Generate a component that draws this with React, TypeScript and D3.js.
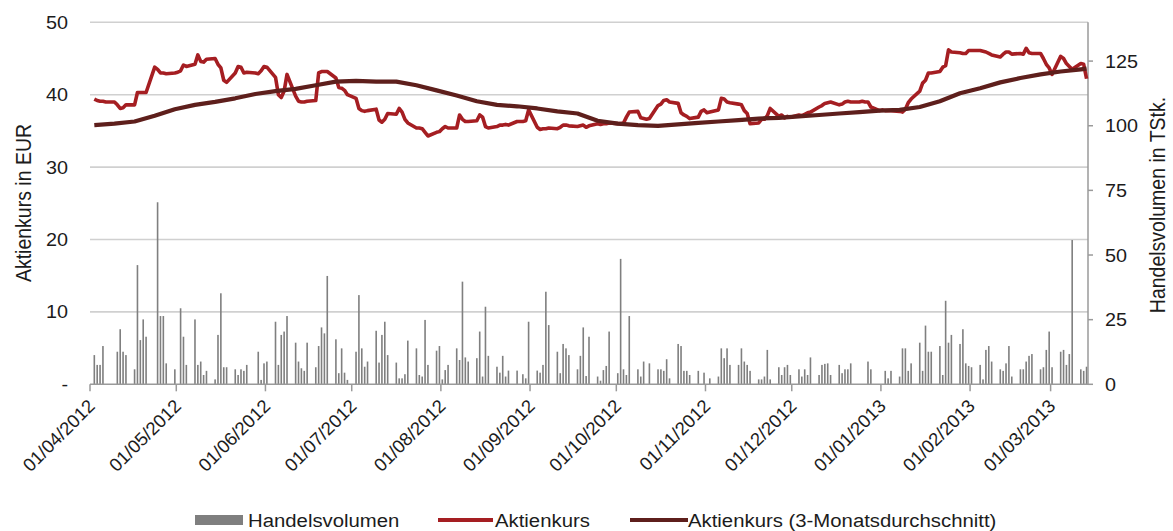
import React from "react";
import * as d3 from "d3";

// Trading period (daily closes, weekdays)
const firstTradingDay = "2012-04-02";
const lastTradingDay = "2013-03-13";
const axisStart = "2012-04-01";
const axisEnd = "2013-03-14";

// Aktienkurs in EUR, one value per trading day (Mon–Fri)
const priceValues = [
  39.4, 39.2, 39.1, 39.1, 39.0,
  39.0, 38.6, 38.1, 38.2, 38.6,
  38.6, 40.3, 40.3, 40.3, 40.3,
  43.8, 43.5, 43.0, 43.0, 42.9,
  43.0, 43.1, 43.3, 44.1, 43.9,
  44.2, 45.5, 44.6, 44.5, 44.9,
  45.0, 44.2, 43.7, 42.0, 41.7,
  43.0, 43.9, 43.8, 43.0, 43.1,
  43.0, 42.9, 43.3, 43.9, 43.8,
  42.4, 40.0, 39.6, 40.5, 42.8,
  39.8, 39.1, 39.0, 39.0, 39.1,
  39.2, 43.0, 43.2, 43.2, 43.2,
  42.3, 41.0, 40.9, 40.6, 40.0,
  39.5, 38.1, 37.8, 37.7, 37.8,
  38.0, 36.5, 36.2, 36.6, 37.4,
  37.3, 38.1, 37.6, 36.6, 36.1,
  35.4, 35.4, 35.3, 34.8, 34.3,
  34.8, 34.9, 35.3, 35.6, 35.4,
  35.4, 37.2, 36.6, 36.3, 36.3,
  36.4, 37.2, 36.9, 35.6, 35.4,
  35.6, 35.8, 35.8, 35.9, 35.8,
  36.3, 36.3, 36.3, 36.4, 37.9,
  35.5, 35.2, 35.3, 35.3, 35.4,
  35.3, 35.5, 35.8, 35.8, 35.7,
  35.6, 35.7, 35.8, 35.5, 35.7,
  36.0, 35.9, 36.0, 36.0, 36.1,
  36.0, 36.0, 36.1, 36.9, 37.6,
  37.7, 36.8, 36.7, 36.6, 36.7,
  38.5, 38.7, 39.2, 39.3, 39.0,
  38.8, 37.5, 37.2, 37.0, 36.7,
  36.9, 37.7, 37.9, 37.5, 37.6,
  37.9, 39.5, 39.4, 39.0, 38.9,
  38.7, 38.6, 37.8, 37.4, 36.0,
  36.1, 36.6, 36.6, 37.1, 38.1,
  37.0, 37.2, 36.8, 37.0, 36.9,
  37.2, 37.1, 37.3, 37.5, 37.6,
  38.3, 38.5, 38.8, 38.9, 39.0,
  38.6, 38.7, 39.0, 39.1, 39.0,
  39.0, 39.1, 39.0, 39.0, 38.3,
  37.8, 37.9, 37.8, 37.8, 37.8,
  37.7, 37.6, 38.0, 38.9, 39.4,
  40.5, 41.6, 42.0, 43.0, 43.0,
  43.2, 43.8, 44.0, 46.2, 45.9,
  45.8, 45.7, 45.7, 46.1, 46.1,
  46.1, 46.0, 45.9, 45.7, 45.5,
  45.2, 45.6, 45.9, 45.9, 45.6,
  45.7, 45.6, 46.4, 45.8, 45.7,
  45.7, 45.0, 44.2, 43.7, 42.8,
  45.3, 45.0, 44.3, 43.9, 43.5,
  44.3, 44.2, 42.2,
];

// Handelsvolumen in TStk., one value per trading day (0 = no turnover)
const volumeValues = [
  11.3, 7.5, 7.5, 14.8, 0,
  0, 12.6, 21.3, 12.6, 11.3,
  5.8, 46.1, 17.1, 25.1, 18.4,
  0, 70.4, 26.4, 26.4, 8.1,
  5.8, 0, 29.4, 18.4, 7.5,
  25.1, 7.5, 8.8, 3.6, 5.2,
  1.9, 19.1, 35.2, 6.6, 6.6,
  5.8, 3.6, 5.8, 5.2, 7.5,
  0, 12.6, 1.7, 8.1, 8.8,
  24.2, 7.5, 19.1, 20.4, 26.4,
  16.1, 8.8, 6.2, 5.2, 16.1,
  6.6, 14.8, 22.0, 19.7, 41.9,
  17.4, 4.3, 13.9, 4.5, 1.7,
  12.6, 34.5, 13.9, 6.8, 8.8,
  20.7, 8.4, 19.1, 24.2, 11.3,
  8.4, 2.3, 2.3, 3.9, 16.9,
  13.9, 3.6, 3.0, 24.9, 7.5,
  13.0, 14.8, 1.9, 5.5, 7.5,
  13.9, 9.4, 39.7, 10.4, 8.8,
  10.1, 20.4, 3.0, 30.0, 11.0,
  6.8, 4.5, 11.0, 3.0, 5.3,
  5.3, 0, 3.9, 2.3, 24.2,
  5.3, 4.5, 7.5, 35.8, 22.9,
  12.6, 4.3, 15.6, 13.9, 11.3,
  5.8, 11.0, 22.0, 3.2, 18.4,
  3.0, 1.4, 5.5, 7.1, 20.4,
  4.3, 48.5, 5.8, 3.6, 26.4,
  5.8, 3.0, 8.8, 0, 8.1,
  5.8, 5.8, 5.2, 9.7, 2.3,
  15.6, 14.8, 5.2, 5.2, 3.6,
  5.2, 0, 4.5, 0, 2.3,
  3.0, 13.9, 10.1, 13.9, 7.5,
  7.5, 13.9, 8.8, 7.5, 5.2,
  1.9, 1.9, 3.0, 13.3, 1.9,
  6.6, 3.6, 6.6, 7.5, 3.6,
  5.8, 3.0, 5.8, 3.6, 10.4,
  3.6, 7.5, 7.9, 8.1, 3.6,
  7.5, 4.3, 5.8, 5.8, 8.1,
  0, 0, 0, 8.8, 5.8,
  0, 0, 5.2, 2.3, 5.2,
  3.0, 13.9, 13.9, 5.2, 8.1,
  16.1, 5.2, 22.7, 12.6, 12.6,
  14.8, 3.6, 32.3, 16.1, 19.1,
  15.6, 21.3, 8.1, 7.1, 6.6,
  7.5, 1.9, 13.3, 14.8, 8.8,
  5.8, 5.2, 8.1, 14.8, 3.0,
  5.8, 5.8, 8.8, 11.0, 11.7,
  5.8, 6.6, 13.3, 20.4, 6.6,
  12.6, 13.3, 7.5, 11.7, 55.8,
  5.8, 5.2, 6.8,
];

// 3-Monatsdurchschnitt, sampled every Monday, plus the last trading day
const movingAvgWeekly = [
  35.8, 36.0, 36.3, 37.1, 38.0, 38.6, 39.0, 39.5, 40.1, 40.5,
  40.8, 41.3, 41.8, 41.9, 41.8, 41.8, 41.3, 40.6, 39.9, 39.1,
  38.6, 38.4, 38.1, 37.7, 37.4, 36.4, 36.0, 35.8, 35.7, 35.9,
  36.1, 36.3, 36.5, 36.7, 36.8, 37.0, 37.2, 37.4, 37.6, 37.8,
  37.9, 38.3, 39.1, 40.2, 40.9, 41.7, 42.3, 42.8, 43.2, 43.5,
  43.6,
];

const priceTicks = [0, 10, 20, 30, 40, 50];
const volumeTicks = [0, 25, 50, 75, 100, 125];
const monthTicks = [
  "2012-04-01", "2012-05-01", "2012-06-01", "2012-07-01", "2012-08-01", "2012-09-01",
  "2012-10-01", "2012-11-01", "2012-12-01", "2013-01-01", "2013-02-01", "2013-03-01",
];

const FONT = "'Liberation Sans', Arial, sans-serif";
const RED = "#a51e22";
const BROWN = "#5e1f1c";
const BAR = "#7f7f7f";
const GRID = "#d0d0d0";
const AXIS = "#9a9a9a";
const TEXT = "#1c1c1c";

const parse = (s: string) => new Date(s + "T00:00:00Z");

export default function App() {
  const width = 1173;
  const height = 531;
  const left = 90;
  const right = 1088;
  const top = 22.3;
  const bottom = 384.3;

  const x = d3.scaleUtc().domain([parse(axisStart), parse(axisEnd)]).range([left, right]);
  const yPrice = d3.scaleLinear().domain([0, 50]).range([bottom, top]);
  const yVol = d3.scaleLinear().domain([0, 140]).range([bottom, top]);

  const tradingDays = d3
    .utcDays(parse(firstTradingDay), d3.utcDay.offset(parse(lastTradingDay), 1))
    .filter((d) => d.getUTCDay() !== 0 && d.getUTCDay() !== 6);

  // Each day is centred in its own date slot
  const cx = (d: Date) => x(d3.utcHour.offset(d, 12));

  const priceData = tradingDays.map((d, i) => ({ d, v: priceValues[i] }));
  const volumeData = tradingDays.map((d, i) => ({ d, v: volumeValues[i] }));
  const maDates = tradingDays.filter((_, i) => i % 5 === 0).concat([tradingDays[tradingDays.length - 1]]);
  const maData = maDates.map((d, i) => ({ d, v: movingAvgWeekly[i] }));

  const priceLine = d3
    .line<{ d: Date; v: number }>()
    .x((p) => cx(p.d))
    .y((p) => yPrice(p.v));

  const tickText = (v: number) => (v === 0 ? "-" : String(v));
  const fmt = d3.utcFormat("%d/%m/%Y");

  return (
    <svg
      width={width}
      height={height}
      style={{ position: "absolute", left: 0, top: 0, background: "#fff" }}
      fontFamily={FONT}
    >
      {/* horizontal grid */}
      {priceTicks
        .filter((t) => t > 0)
        .map((t) => (
          <line key={"g" + t} x1={left} x2={right} y1={yPrice(t)} y2={yPrice(t)} stroke={GRID} strokeWidth={1.6} />
        ))}

      {/* volume bars */}
      {volumeData
        .filter((p) => p.v > 0)
        .map((p, i) => (
          <rect
            key={"b" + i}
            x={cx(p.d) - 0.8}
            y={yVol(p.v)}
            width={1.6}
            height={yVol(0) - yVol(p.v)}
            fill={BAR}
          />
        ))}

      {/* axes */}
      <line x1={left} x2={right} y1={bottom} y2={bottom} stroke={AXIS} strokeWidth={1.5} />
      <line x1={right} x2={right} y1={top} y2={bottom} stroke={AXIS} strokeWidth={1.5} />
      {monthTicks.map((m) => (
        <line key={"t" + m} x1={x(parse(m))} x2={x(parse(m))} y1={bottom} y2={bottom + 7} stroke={AXIS} strokeWidth={1.5} />
      ))}
      {volumeTicks.map((t) => (
        <line key={"rt" + t} x1={right} x2={right + 5} y1={yVol(t)} y2={yVol(t)} stroke={AXIS} strokeWidth={1.5} />
      ))}

      {/* series lines */}
      <path d={priceLine(priceData) || ""} fill="none" stroke={RED} strokeWidth={3.6} strokeLinejoin="round" />
      <path d={priceLine(maData) || ""} fill="none" stroke={BROWN} strokeWidth={4.2} strokeLinejoin="round" />

      {/* left tick labels */}
      {priceTicks.map((t) => (
        <text
          key={"lt" + t}
          transform={`translate(68,${yPrice(t) + 6.5}) scale(1.1,1)`}
          textAnchor="end"
          fontSize={18}
          fill={TEXT}
        >
          {tickText(t)}
        </text>
      ))}

      {/* right tick labels */}
      {volumeTicks.map((t) => (
        <text
          key={"rl" + t}
          transform={`translate(1105,${yVol(t) + 6.5}) scale(1.1,1)`}
          textAnchor="start"
          fontSize={18}
          fill={TEXT}
        >
          {t}
        </text>
      ))}

      {/* date labels */}
      {monthTicks.map((m) => (
        <text
          key={"dl" + m}
          transform={`translate(${x(parse(m)) + 6},${bottom + 23}) rotate(-45)`}
          textAnchor="end"
          fontSize={18.5}
          fill={TEXT}
        >
          {fmt(parse(m))}
        </text>
      ))}

      {/* axis titles */}
      <text
        transform="translate(31,203) scale(1.1,1) rotate(-90)"
        textAnchor="middle"
        fontSize={19.5}
        fill={TEXT}
      >
        Aktienkurs in EUR
      </text>
      <text
        transform="translate(1165,205) scale(1.1,1) rotate(-90)"
        textAnchor="middle"
        fontSize={19.5}
        fill={TEXT}
      >
        Handelsvolumen in TStk.
      </text>

      {/* legend */}
      <rect x={195} y={515} width={48} height={10} fill={BAR} />
      <text transform="translate(248,526.5) scale(1.13,1)" fontSize={18} fill={TEXT}>
        Handelsvolumen
      </text>
      <line x1={438} x2={493} y1={520} y2={520} stroke={RED} strokeWidth={4} />
      <text transform="translate(495,526.5) scale(1.13,1)" fontSize={18} fill={TEXT}>
        Aktienkurs
      </text>
      <line x1={630} x2={688} y1={520} y2={520} stroke={BROWN} strokeWidth={4} />
      <text transform="translate(688,526.5) scale(1.13,1)" fontSize={18} fill={TEXT}>
        Aktienkurs (3-Monatsdurchschnitt)
      </text>
    </svg>
  );
}
